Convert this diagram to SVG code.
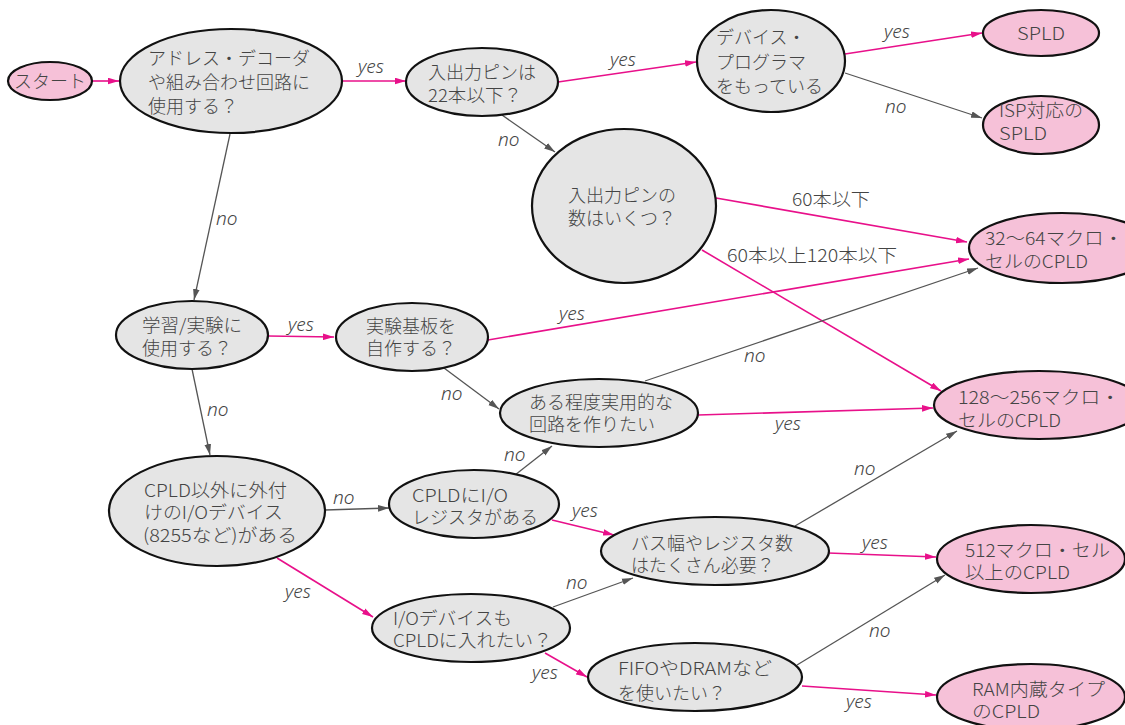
<svg xmlns="http://www.w3.org/2000/svg" width="1125" height="725" viewBox="0 0 1125 725">
<defs>
<style>
.n ellipse{stroke:#111;stroke-width:2.2}
.q ellipse{fill:#e5e5e5}
.t ellipse{fill:#f6c1d8}
.n text{font-family:"Noto Sans CJK JP","Noto Sans",sans-serif;font-weight:300;font-size:18px;fill:#444}
.y{stroke:#e8108a;stroke-width:1.6;fill:none;marker-end:url(#ap)}
.o{stroke:#555;stroke-width:1.3;fill:none;marker-end:url(#ag)}
.lb{font-family:"Noto Sans",sans-serif;font-style:italic;font-weight:300;font-size:19px;fill:#444}
.lc{font-family:"Noto Sans CJK JP","Noto Sans",sans-serif;font-weight:300;font-size:18px;fill:#444}
</style>
<marker id="ap" viewBox="0 0 10 6" refX="10" refY="3" markerWidth="11" markerHeight="7" markerUnits="userSpaceOnUse" orient="auto"><path d="M0,0L10,3L0,6z" fill="#e8108a"/></marker>
<marker id="ag" viewBox="0 0 10 6" refX="10" refY="3" markerWidth="11" markerHeight="7" markerUnits="userSpaceOnUse" orient="auto"><path d="M0,0L10,3L0,6z" fill="#555"/></marker>
</defs>
<rect width="1125" height="725" fill="#fff"/>
<g id="connectors">
<line class="y" x1="92" y1="81" x2="119" y2="81"/>
<line class="y" x1="342" y1="81" x2="406" y2="81"/>
<line class="y" x1="558" y1="82" x2="696" y2="62"/>
<line class="y" x1="845" y1="54" x2="982" y2="33"/>
<line class="o" x1="845" y1="73" x2="982" y2="118"/>
<line class="o" x1="502" y1="115" x2="555" y2="152"/>
<line class="y" x1="716" y1="198" x2="967" y2="242"/>
<line class="y" x1="702" y1="250" x2="941" y2="391"/>
<line class="o" x1="230" y1="134" x2="194" y2="300"/>
<line class="y" x1="268" y1="336" x2="334" y2="337"/>
<line class="y" x1="488" y1="340" x2="969" y2="259"/>
<line class="o" x1="444" y1="368" x2="499" y2="409"/>
<line class="o" x1="645" y1="381" x2="978" y2="268"/>
<line class="y" x1="698" y1="415" x2="933" y2="408"/>
<line class="o" x1="192" y1="369" x2="210" y2="455"/>
<line class="o" x1="325" y1="510" x2="389" y2="508"/>
<line class="y" x1="277" y1="558" x2="373" y2="617"/>
<line class="o" x1="515" y1="475" x2="552" y2="446"/>
<line class="y" x1="552" y1="520" x2="614" y2="535"/>
<line class="o" x1="795" y1="526" x2="957" y2="431"/>
<line class="y" x1="828" y1="553" x2="936" y2="557"/>
<line class="o" x1="553" y1="607" x2="633" y2="578"/>
<line class="y" x1="545" y1="653" x2="587" y2="677"/>
<line class="o" x1="797" y1="665" x2="945" y2="575"/>
<line class="y" x1="802" y1="686" x2="936" y2="695"/>
</g>
<g id="edge-labels">
<text class="lb" x="358" y="73">yes</text>
<text class="lb" x="610" y="66">yes</text>
<text class="lb" x="884" y="38">yes</text>
<text class="lb" x="885" y="113">no</text>
<text class="lb" x="498" y="146">no</text>
<text class="lc" x="792" y="206" textLength="78" lengthAdjust="spacingAndGlyphs">60本以下</text>
<text class="lc" x="727" y="262" textLength="170" lengthAdjust="spacingAndGlyphs">60本以上120本以下</text>
<text class="lb" x="216" y="225">no</text>
<text class="lb" x="288" y="331">yes</text>
<text class="lb" x="559" y="320">yes</text>
<text class="lb" x="441" y="400">no</text>
<text class="lb" x="744" y="362">no</text>
<text class="lb" x="775" y="430">yes</text>
<text class="lb" x="207" y="416">no</text>
<text class="lb" x="333" y="504">no</text>
<text class="lb" x="285" y="598">yes</text>
<text class="lb" x="504" y="461">no</text>
<text class="lb" x="572" y="517">yes</text>
<text class="lb" x="854" y="475">no</text>
<text class="lb" x="862" y="549">yes</text>
<text class="lb" x="566" y="589">no</text>
<text class="lb" x="532" y="679">yes</text>
<text class="lb" x="869" y="637">no</text>
<text class="lb" x="846" y="708">yes</text>
</g>
<g id="start" class="n t"><ellipse cx="50" cy="81" rx="42" ry="19"/><text x="50" y="88" text-anchor="middle">スタート</text></g>
<g id="q-address" class="n q"><ellipse cx="231" cy="81" rx="111" ry="52"/><text><tspan x="148" y="65">アドレス・デコーダ</tspan><tspan x="148" y="89">や組み合わせ回路に</tspan><tspan x="148" y="113">使用する？</tspan></text></g>
<g id="q-pin22" class="n q"><ellipse cx="482" cy="82" rx="76" ry="34"/><text><tspan x="428" y="79">入出力ピンは</tspan><tspan x="428" y="102" textLength="94" lengthAdjust="spacingAndGlyphs">22本以下？</tspan></text></g>
<g id="q-programmer" class="n q"><ellipse cx="771" cy="61" rx="74" ry="51"/><text><tspan x="716" y="44">デバイス・</tspan><tspan x="716" y="69">プログラマ</tspan><tspan x="716" y="93">をもっている</tspan></text></g>
<g id="r-spld" class="n t"><ellipse cx="1041" cy="33" rx="58" ry="23"/><text x="1017" y="40" textLength="48" lengthAdjust="spacingAndGlyphs">SPLD</text></g>
<g id="r-isp-spld" class="n t"><ellipse cx="1041" cy="125" rx="58" ry="29"/><text><tspan x="999" y="117" textLength="84" lengthAdjust="spacingAndGlyphs">ISP対応の</tspan><tspan x="999" y="140" textLength="48" lengthAdjust="spacingAndGlyphs">SPLD</tspan></text></g>
<g id="q-pincount" class="n q"><ellipse cx="624" cy="206" rx="92" ry="77"/><text><tspan x="568" y="202">入出力ピンの</tspan><tspan x="568" y="225">数はいくつ？</tspan></text></g>
<g id="r-cpld-32-64" class="n t"><ellipse cx="1062" cy="248" rx="93" ry="35"/><text><tspan x="985" y="245" textLength="138" lengthAdjust="spacingAndGlyphs">32〜64マクロ・</tspan><tspan x="985" y="268" textLength="103" lengthAdjust="spacingAndGlyphs">セルのCPLD</tspan></text></g>
<g id="q-study" class="n q"><ellipse cx="192" cy="335" rx="76" ry="34"/><text><tspan x="142" y="332" textLength="100" lengthAdjust="spacingAndGlyphs">学習/実験に</tspan><tspan x="142" y="355">使用する？</tspan></text></g>
<g id="q-board" class="n q"><ellipse cx="412" cy="337" rx="76" ry="34"/><text><tspan x="366" y="333">実験基板を</tspan><tspan x="366" y="355">自作する？</tspan></text></g>
<g id="q-practical" class="n q"><ellipse cx="599" cy="413" rx="99" ry="34"/><text><tspan x="529" y="409">ある程度実用的な</tspan><tspan x="529" y="431">回路を作りたい</tspan></text></g>
<g id="r-cpld-128-256" class="n t"><ellipse cx="1039" cy="405" rx="105" ry="34"/><text><tspan x="958" y="404" textLength="162" lengthAdjust="spacingAndGlyphs">128〜256マクロ・</tspan><tspan x="958" y="427" textLength="103" lengthAdjust="spacingAndGlyphs">セルのCPLD</tspan></text></g>
<g id="q-external-io" class="n q"><ellipse cx="217" cy="511" rx="108" ry="55"/><text><tspan x="144" y="497" textLength="143" lengthAdjust="spacingAndGlyphs">CPLD以外に外付</tspan><tspan x="144" y="519" textLength="139" lengthAdjust="spacingAndGlyphs">けのI/Oデバイス</tspan><tspan x="143" y="542" textLength="154" lengthAdjust="spacingAndGlyphs">(8255など)がある</tspan></text></g>
<g id="q-io-register" class="n q"><ellipse cx="474" cy="504" rx="85" ry="34"/><text><tspan x="412" y="502" textLength="96" lengthAdjust="spacingAndGlyphs">CPLDにI/O</tspan><tspan x="412" y="524">レジスタがある</tspan></text></g>
<g id="q-bus" class="n q"><ellipse cx="715" cy="551" rx="114" ry="34"/><text><tspan x="631" y="550">バス幅やレジスタ数</tspan><tspan x="631" y="572">はたくさん必要？</tspan></text></g>
<g id="q-io-in-cpld" class="n q"><ellipse cx="471" cy="628" rx="99" ry="34"/><text><tspan x="393" y="625" textLength="119" lengthAdjust="spacingAndGlyphs">I/Oデバイスも</tspan><tspan x="393" y="647" textLength="159" lengthAdjust="spacingAndGlyphs">CPLDに入れたい？</tspan></text></g>
<g id="q-fifo" class="n q"><ellipse cx="695" cy="677" rx="107" ry="34"/><text><tspan x="618" y="675" textLength="154" lengthAdjust="spacingAndGlyphs">FIFOやDRAMなど</tspan><tspan x="618" y="700">を使いたい？</tspan></text></g>
<g id="r-cpld-512" class="n t"><ellipse cx="1031" cy="559" rx="94" ry="34"/><text><tspan x="965" y="557" textLength="145" lengthAdjust="spacingAndGlyphs">512マクロ・セル</tspan><tspan x="965" y="579" textLength="105" lengthAdjust="spacingAndGlyphs">以上のCPLD</tspan></text></g>
<g id="r-cpld-ram" class="n t"><ellipse cx="1031" cy="697" rx="94" ry="33"/><text><tspan x="972" y="696" textLength="133" lengthAdjust="spacingAndGlyphs">RAM内蔵タイプ</tspan><tspan x="972" y="718" textLength="68" lengthAdjust="spacingAndGlyphs">のCPLD</tspan></text></g>
</svg>
